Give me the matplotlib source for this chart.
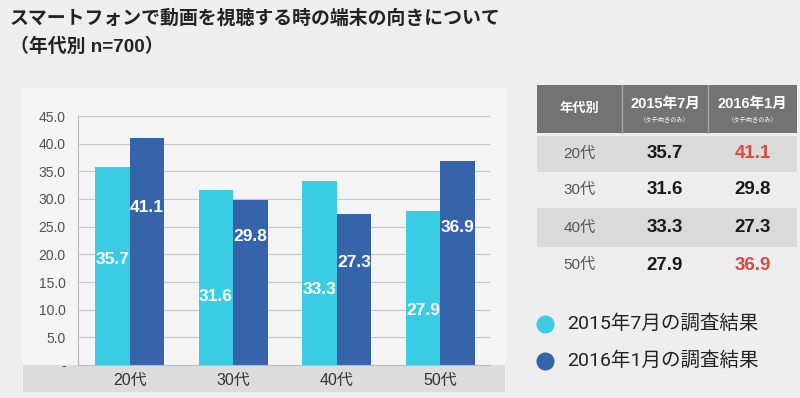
import matplotlib.pyplot as plt
from matplotlib.patches import Rectangle

plt.rcParams['font.family'] = ['Liberation Sans', 'Noto Sans CJK JP', 'DejaVu Sans']

ages = ["20代", "30代", "40代", "50代"]
jul_2015 = [35.7, 31.6, 33.3, 27.9]
jan_2016 = [41.1, 29.8, 27.3, 36.9]
series_names = ["2015年7月の調査結果", "2016年1月の調査結果"]
col_heads = ["年代別", "2015年7月", "2016年1月"]
col_note = "（タテ向きのみ）"
title = "スマートフォンで動画を視聴する時の端末の向きについて\n（年代別 n=700）"

# where the value labels sit inside the bars (data units)
lab_y_2015 = [19.0, 12.3, 13.6, 9.9]
lab_y_2016 = [28.4, 23.3, 18.6, 24.8]

c_light = "#3ACCE2"
c_dark = "#3564AA"
W, H = 800, 398

fig = plt.figure(figsize=(8, 3.98), dpi=100, facecolor="#EEEEEE")

# overlay in pixel coordinates for panel, table, legend, title
ov = fig.add_axes([0, 0, 1, 1], zorder=0)
ov.set_xlim(0, W)
ov.set_ylim(H, 0)
ov.axis("off")
ov.add_patch(Rectangle((22, 88), 484, 304, facecolor="#F4F4F4", edgecolor="none"))
ov.add_patch(Rectangle((23, 365), 482, 27, facecolor="#DCDCDC", edgecolor="none"))

ov.text(10, 9, title, fontsize=13.6, fontweight="bold", color="#222222",
        va="top", ha="left", linespacing=1.75)

# chart
ax = fig.add_axes([78 / W, (H - 365) / H, 412 / W, 249 / H], zorder=1)
ax.set_facecolor("none")
x = list(range(len(ages)))
bw = 1 / 3
ax.bar([i - bw / 2 for i in x], jul_2015, width=bw, color=c_light, zorder=2)
ax.bar([i + bw / 2 for i in x], jan_2016, width=bw, color=c_dark, zorder=2)
for i in x:
    ax.text(i - bw / 2, lab_y_2015[i], f"{jul_2015[i]:.1f}", color="white",
            fontsize=12.5, fontweight="bold", ha="center", va="center", zorder=3)
    ax.text(i + bw / 2, lab_y_2016[i], f"{jan_2016[i]:.1f}", color="white",
            fontsize=12.5, fontweight="bold", ha="center", va="center", zorder=3)

ax.set_xlim(-0.5, 3.48)
ax.set_ylim(0, 45)
yt = [v * 5 for v in range(10)]
ax.set_yticks(yt)
ax.set_yticklabels(["-"] + [f"{v:.1f}" for v in yt[1:]], fontsize=10, color="#505050")
ax.set_xticks(x)
ax.set_xticklabels(ages, fontsize=11.5, color="#333333")
ax.tick_params(axis="both", length=0)
ax.tick_params(axis="y", pad=9)
ax.tick_params(axis="x", pad=6)
ax.grid(axis="y", color="#C8C8C8", linewidth=0.8, zorder=0)
for s in ["top", "right"]:
    ax.spines[s].set_visible(False)
ax.spines["left"].set_color("#BBBBBB")
ax.spines["bottom"].set_color("#BBBBBB")

# table
col_x = [537, 622, 708, 797]
ov.add_patch(Rectangle((col_x[0], 85), col_x[3] - col_x[0], 48, facecolor="#737373",
                       edgecolor="none"))
for cx in col_x[1:3]:
    ov.plot([cx, cx], [85, 133], color="#A8A8A8", linewidth=1)
ov.text((col_x[0] + col_x[1]) / 2, 109, col_heads[0], color="white", fontsize=9.5,
        fontweight="bold", ha="center", va="center")
for j in (1, 2):
    cx = (col_x[j] + col_x[j + 1]) / 2
    ov.text(cx, 104, col_heads[j], color="white", fontsize=10.5, fontweight="bold",
            ha="center", va="center")
    ov.text(cx, 120, col_note, color="white", fontsize=4.5, ha="center", va="center")

row_top = [136, 172, 208, 247, 283]
for r, age in enumerate(ages):
    y0, y1 = row_top[r], row_top[r + 1]
    fc = "#DADADA" if r % 2 == 0 else "#EDEDED"
    ov.add_patch(Rectangle((col_x[0], y0), col_x[3] - col_x[0], y1 - y0,
                           facecolor=fc, edgecolor="none"))
    yc = (y0 + y1) / 2
    ov.text((col_x[0] + col_x[1]) / 2, yc, age, color="#555555", fontsize=11,
            ha="center", va="center")
    ov.text((col_x[1] + col_x[2]) / 2, yc, f"{jul_2015[r]:.1f}", color="#1A1A1A",
            fontsize=13.5, fontweight="bold", ha="center", va="center")
    red = jan_2016[r] > jul_2015[r]
    ov.text((col_x[2] + col_x[3]) / 2, yc, f"{jan_2016[r]:.1f}",
            color="#E0473C" if red else "#1A1A1A",
            fontsize=13.5, fontweight="bold", ha="center", va="center")

# legend
for k, (name, c) in enumerate(zip(series_names, [c_light, c_dark])):
    yy = 324 + k * 37
    ov.plot([545], [yy], marker="o", markersize=12, color=c, linestyle="none")
    ov.text(567, yy, name, fontsize=14, color="#222222", ha="left", va="center",
            family=["Roboto", "Noto Sans CJK JP"])

fig.savefig("out.png", dpi=100, facecolor=fig.get_facecolor())
